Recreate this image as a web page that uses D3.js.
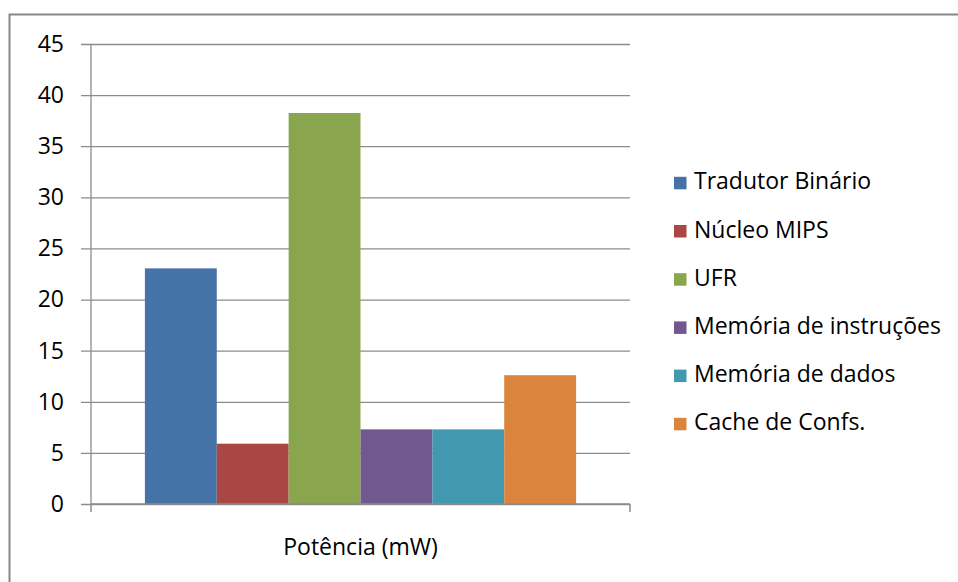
<!DOCTYPE html>
<html>
<head>
<meta charset="utf-8">
<script src="https://cdn.jsdelivr.net/npm/d3@7"></script>
<style>
  html, body { margin: 0; padding: 0; background: #fff; }
  svg { display: block; }
  text { font-family: "Open Sans", Lato, sans-serif; fill: #000; }
</style>
</head>
<body>
<svg id="chart" width="958" height="582"></svg>
<script>
// Power consumption per block, single category
const categories = ["Potência (mW)"];
const seriesNames = ["Tradutor Binário", "Núcleo MIPS", "UFR", "Memória de instruções", "Memória de dados", "Cache de Confs."];
const seriesValues = [23.05, 5.9, 38.25, 7.3, 7.3, 12.6];
const seriesColors = ["#4572A7", "#AA4643", "#89A54E", "#71588F", "#4198AF", "#DB843D"];
const yTicks = [0, 5, 10, 15, 20, 25, 30, 35, 40, 45];

const svg = d3.select("#chart");
const plot = { left: 91, right: 630, top: 44, bottom: 504 };
const gridColor = "#8c8c8c";
const fontSize = "23px";

// Outer chart frame
svg.append("rect")
  .attr("x", 9.5).attr("y", 14.5)
  .attr("width", 980).attr("height", 600)
  .attr("fill", "none")
  .attr("stroke", "#878787")
  .attr("stroke-width", 2);

const y = d3.scaleLinear().domain([0, 45]).range([plot.bottom, plot.top]);
const x0 = d3.scaleBand().domain(categories).range([plot.left, plot.right])
  .paddingInner(0).paddingOuter(0.125);
const x1 = d3.scaleBand().domain(seriesNames).range([0, x0.bandwidth()]).padding(0);

// Horizontal gridlines (with tick stubs to the left of the axis)
const yAxis = d3.axisLeft(y).tickValues(yTicks).tickSize(-(plot.right - plot.left)).tickSizeOuter(0);
const gy = svg.append("g").attr("transform", `translate(${plot.left},0)`).call(yAxis);
gy.select(".domain").remove();
gy.selectAll(".tick line")
  .attr("x1", -10)
  .attr("stroke", gridColor)
  .attr("stroke-width", 1.3);
gy.selectAll(".tick text")
  .attr("x", -27)
  .style("font-size", fontSize)
  .attr("fill", "#000");

// Vertical axis line
svg.append("line")
  .attr("x1", plot.left).attr("x2", plot.left)
  .attr("y1", plot.top).attr("y2", plot.bottom)
  .attr("stroke", gridColor).attr("stroke-width", 1.3);

// Bars
const group = svg.append("g").selectAll("g")
  .data(categories).join("g")
  .attr("transform", d => `translate(${x0(d)},0)`);
group.selectAll("rect")
  .data(seriesNames.map((n, i) => ({ name: n, value: seriesValues[i], color: seriesColors[i] })))
  .join("rect")
  .attr("x", d => x1(d.name))
  .attr("width", x1.bandwidth())
  .attr("y", d => y(d.value))
  .attr("height", d => y(0) - y(d.value))
  .attr("fill", d => d.color);

// Category axis
const xAxis = d3.axisBottom(x0).tickSize(0).tickPadding(0);
const gx = svg.append("g").attr("transform", `translate(0,${plot.bottom})`).call(xAxis);
gx.select(".domain").remove();
gx.selectAll(".tick text").style("font-size", fontSize).attr("y", 51).attr("dy", 0).attr("fill", "#000");
gx.append("line")
  .attr("x1", plot.left).attr("x2", plot.right)
  .attr("stroke", gridColor).attr("stroke-width", 1.5);
[plot.left, plot.right].forEach(px => {
  gx.append("line")
    .attr("x1", px).attr("x2", px)
    .attr("y1", 0).attr("y2", 8)
    .attr("stroke", gridColor).attr("stroke-width", 1.5);
});

// Legend
const legend = svg.append("g").attr("transform", "translate(674,0)");
const legendY = d3.scalePoint().domain(seriesNames).range([189.3, 430.3]);
const item = legend.selectAll("g").data(seriesNames).join("g")
  .attr("transform", d => `translate(0,${legendY(d)})`);
item.append("rect")
  .attr("x", 0).attr("y", -12.5)
  .attr("width", 12.5).attr("height", 12.5)
  .attr("fill", (d, i) => seriesColors[i]);
item.append("text")
  .attr("x", 20).attr("y", 0)
  .style("font-size", fontSize)
  .text(d => d);
</script>
</body>
</html>
